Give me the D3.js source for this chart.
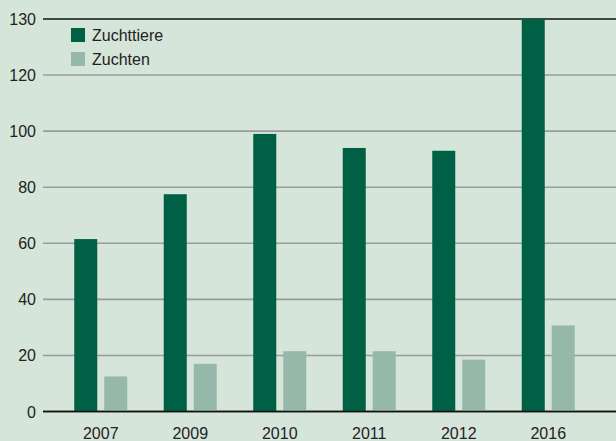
<!DOCTYPE html>
<html>
<head>
<meta charset="utf-8">
<script src="https://cdn.jsdelivr.net/npm/d3@7"></script>
<style>
  body { margin: 0; background: #d6e5d9; }
  text { font-family: "Liberation Sans", Arial, sans-serif; fill: #222; }
</style>
</head>
<body>
<div id="chart"></div>
<script>
// Chart data
var years = ["2007", "2009", "2010", "2011", "2012", "2016"];
var zuchttiere = [61.5, 77.5, 99, 94, 93, 140];
var zuchten = [12.5, 17, 21.5, 21.5, 18.5, 30.7];
var seriesNames = ["Zuchttiere", "Zuchten"];
var yTicks = [0, 20, 40, 60, 80, 100, 120, 140];
var yTickLabels = ["0", "20", "40", "60", "80", "100", "120", "130"];

var width = 616, height = 441;
var colors = ["#006045", "#95b8ab"];

var svg = d3.select("#chart")
    .append("svg")
    .attr("width", width)
    .attr("height", height);

svg.append("rect")
    .attr("width", width)
    .attr("height", height)
    .attr("fill", "#d6e5d9");

var x = d3.scaleBand()
    .domain(years)
    .range([56, 593])
    .paddingInner(0)
    .paddingOuter(0);

var y = d3.scaleLinear()
    .domain([0, 140])
    .range([411.5, 19]);

// gridlines
svg.append("g")
    .selectAll("line")
    .data(yTicks)
    .enter()
    .append("line")
    .attr("x1", 43)
    .attr("x2", width)
    .attr("y1", function (d) { return y(d); })
    .attr("y2", function (d) { return y(d); })
    .attr("stroke", function (d, i) { return (i === 0 || i === yTicks.length - 1) ? "#111" : "#999d99"; })
    .attr("stroke-width", 1.6);

// y labels
svg.append("g")
    .selectAll("text")
    .data(yTicks)
    .enter()
    .append("text")
    .attr("x", 36)
    .attr("y", function (d) { return y(d) + 6; })
    .attr("text-anchor", "end")
    .attr("font-size", 16)
    .text(function (d, i) { return yTickLabels[i]; });

var barW = 23, gap = 7;
var groups = svg.append("g")
    .selectAll("g")
    .data(years)
    .enter()
    .append("g")
    .attr("transform", function (d) { return "translate(" + (x(d) + x.bandwidth() / 2) + ",0)"; });

groups.append("rect")
    .attr("x", -barW - gap / 2)
    .attr("width", barW)
    .attr("y", function (d, i) { return y(zuchttiere[i]); })
    .attr("height", function (d, i) { return y(0) - y(zuchttiere[i]); })
    .attr("fill", colors[0]);

groups.append("rect")
    .attr("x", gap / 2)
    .attr("width", barW)
    .attr("y", function (d, i) { return y(zuchten[i]); })
    .attr("height", function (d, i) { return y(0) - y(zuchten[i]); })
    .attr("fill", colors[1]);

// redraw baseline over bars
svg.append("line")
    .attr("x1", 43).attr("x2", width)
    .attr("y1", y(0)).attr("y2", y(0))
    .attr("stroke", "#111").attr("stroke-width", 1.6);

// x labels
groups.append("text")
    .attr("y", 439)
    .attr("text-anchor", "middle")
    .attr("font-size", 16)
    .text(function (d) { return d; });

// legend
var legend = svg.append("g")
    .selectAll("g")
    .data(seriesNames)
    .enter()
    .append("g")
    .attr("transform", function (d, i) { return "translate(71," + (28 + i * 24) + ")"; });

legend.append("rect")
    .attr("width", 14)
    .attr("height", 14)
    .attr("fill", function (d, i) { return colors[i]; });

legend.append("text")
    .attr("x", 21)
    .attr("y", 13)
    .attr("font-size", 16)
    .text(function (d) { return d; });
</script>
</body>
</html>
